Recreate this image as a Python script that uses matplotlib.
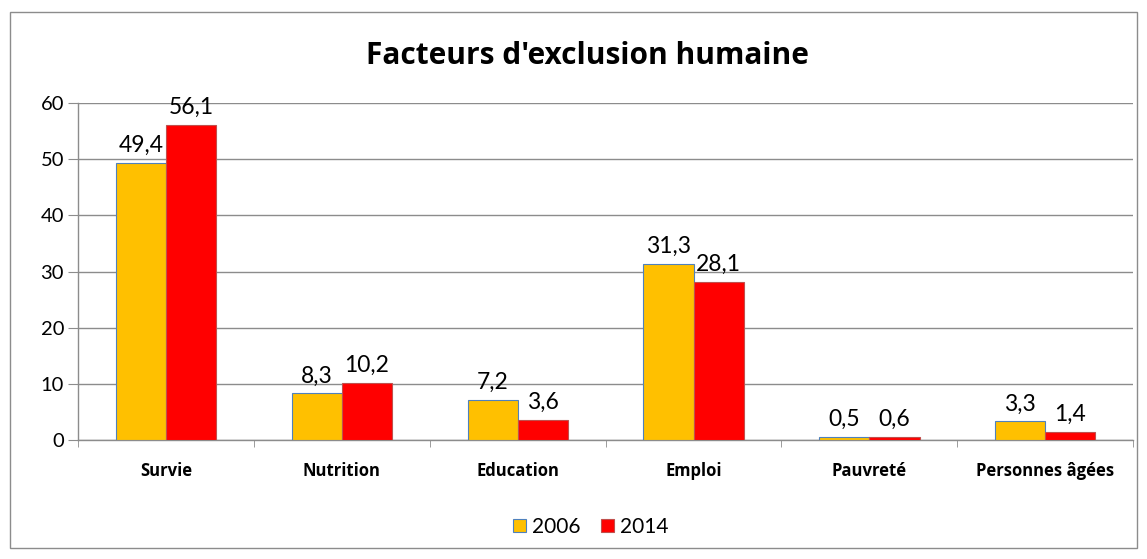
import matplotlib.pyplot as plt
import numpy as np
from matplotlib.patches import Rectangle

# Données
categories = ['Survie', 'Nutrition', 'Education', 'Emploi', 'Pauvreté', 'Personnes âgées']
val_2006 = [49.4, 8.3, 7.2, 31.3, 0.5, 3.3]
val_2014 = [56.1, 10.2, 3.6, 28.1, 0.6, 1.4]
series_names = ['2006', '2014']

num_font = 'Lato'
lab_font = 'Open Sans'

fig = plt.figure(figsize=(11.47, 5.59), dpi=100)
ax = fig.add_axes([0.068, 0.2129, 0.920, 0.6028])

x = np.arange(len(categories))
w = 0.285
b1 = ax.bar(x - w / 2, val_2006, w, color='#FFC000', edgecolor='#4F81BD', linewidth=0.8,
            label=series_names[0], zorder=3)
b2 = ax.bar(x + w / 2, val_2014, w, color='#FF0000', edgecolor='#C0504D', linewidth=0.8,
            label=series_names[1], zorder=3)

for bars, vals in [(b1, val_2006), (b2, val_2014)]:
    for rect, v in zip(bars, vals):
        ax.annotate(f'{v:.1f}'.replace('.', ','),
                    (rect.get_x() + rect.get_width() / 2, rect.get_height()),
                    xytext=(0, 5), textcoords='offset points',
                    ha='center', va='bottom', fontsize=16.5, family=num_font)

ax.set_xlim(-0.5, len(categories) - 0.5)
ax.set_ylim(0, 60)
ax.set_yticks(range(0, 61, 10))
ax.yaxis.grid(True, color='#8c8c8c', linewidth=1, zorder=0)
ax.tick_params(axis='y', length=7, color='#8c8c8c', labelsize=14.5, pad=3)
for t in ax.get_yticklabels():
    t.set_family(num_font)

ax.set_xticks(x)
ax.set_xticklabels(categories, fontsize=12, fontweight='bold', family=lab_font)
ax.set_xticks(np.arange(-0.5, len(categories)), minor=True)
ax.tick_params(axis='x', which='major', length=0, pad=16)
ax.tick_params(axis='x', which='minor', length=5, color='#8c8c8c')

for s in ['top', 'right']:
    ax.spines[s].set_visible(False)
for s in ['left', 'bottom']:
    ax.spines[s].set_color('#8c8c8c')
    ax.spines[s].set_linewidth(1)

fig.text(0.512, 0.9, "Facteurs d'exclusion humaine", ha='center', va='center',
         fontsize=21.5, fontweight='bold', family=lab_font)

fig.legend(handles=[b1, b2], loc='center', bbox_to_anchor=(0.515, 0.057), ncol=2,
           frameon=False, prop={'family': num_font, 'size': 15}, handlelength=0.6,
           handleheight=0.6, handletextpad=0.3, columnspacing=1.0)

fig.patches.append(Rectangle((0.009, 0.02), 0.982, 0.958, transform=fig.transFigure,
                             fill=False, edgecolor='#8c8c8c', linewidth=1))

plt.savefig('out.png', dpi=100)
